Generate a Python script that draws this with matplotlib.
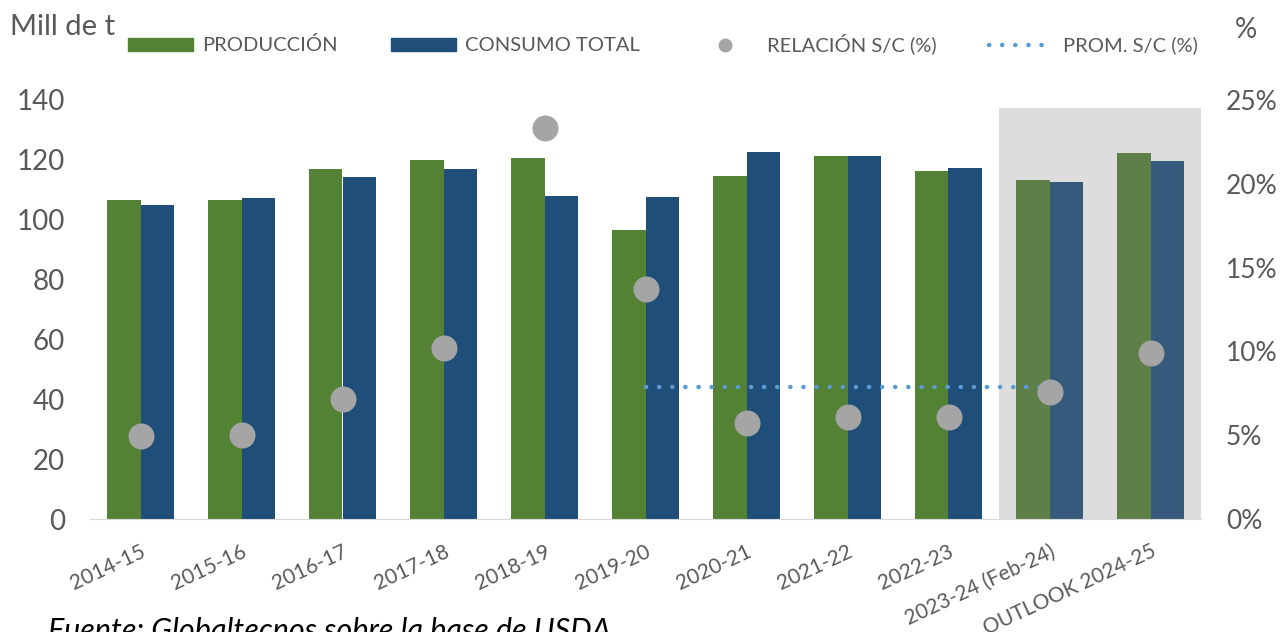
import numpy as np
import matplotlib.pyplot as plt
from matplotlib.lines import Line2D
from matplotlib.patches import Patch

plt.rcParams['font.family'] = ['Lato', 'DejaVu Sans']

campanias = ['2014-15', '2015-16', '2016-17', '2017-18', '2018-19', '2019-20',
             '2020-21', '2021-22', '2022-23', '2023-24 (Feb-24)', 'OUTLOOK 2024-25']
produccion = [106.7, 106.7, 117.0, 120.0, 120.7, 96.7, 114.7, 121.3, 116.3, 113.3, 122.2]
consumo = [105.0, 107.3, 114.3, 117.0, 108.0, 107.7, 122.7, 121.3, 117.3, 112.7, 119.7]
relacion_sc = [4.95, 5.0, 7.15, 10.2, 23.3, 13.7, 5.7, 6.1, 6.1, 7.6, 9.9]
prom_sc = [7.9, 7.9, 7.9, 7.9, 7.9]
prom_idx = [5, 6, 7, 8, 9]

verde, azul = '#548235', '#1F4E79'
verde_b, azul_b = '#5E8048', '#365A7C'
gris_txt = '#595959'
punteado = (0, (0.05, 2.9))

fig = plt.figure(figsize=(12.81, 6.32), dpi=100)
ax = fig.add_axes([90 / 1281, 113 / 632, 1111 / 1281, 419 / 632])
ax2 = ax.twinx()

x = np.arange(len(campanias))
w = 0.33
ax.axvspan(8.5, 10.5, ymin=0, ymax=137.3 / 140, color='#DDDDDD', zorder=0, lw=0)
cv = [verde] * 9 + [verde_b] * 2
ca = [azul] * 9 + [azul_b] * 2
ax.bar(x - w / 2, produccion, w, color=cv, zorder=2)
ax.bar(x + w / 2, consumo, w, color=ca, zorder=2)

ax.set_xlim(-0.5, 10.5)
ax.set_ylim(0, 140)
ax.set_yticks(range(0, 141, 20))
ax.set_xticks(x)
ax.set_xticklabels(campanias, rotation=25, ha='right', rotation_mode='anchor')
ax.tick_params(axis='x', length=0, labelsize=15, labelcolor=gris_txt, pad=16)
ax.tick_params(axis='y', length=0, labelsize=20, labelcolor=gris_txt, pad=18)
for s in ['top', 'right', 'left']:
    ax.spines[s].set_visible(False)
ax.spines['bottom'].set_color('#D9D9D9')
ax.set_zorder(1)
ax.patch.set_visible(False)

ax2.set_ylim(0, 25)
ax2.set_yticks(range(0, 26, 5))
ax2.set_yticklabels([f'{v}%' for v in range(0, 26, 5)])
ax2.tick_params(axis='y', length=0, labelsize=19, labelcolor=gris_txt, pad=18)
for s in ax2.spines.values():
    s.set_visible(False)
ax2.set_zorder(2)
ax2.plot(prom_idx, prom_sc, linestyle=punteado, color='#5B9BD5', lw=3.2,
         dash_capstyle='round')
ax2.scatter(x, relacion_sc, s=350, color='#A5A5A5', zorder=3, lw=0)

fig.text(10 / 1281, 1 - 27 / 632, 'Mill de t', fontsize=21, color=gris_txt, va='center')
fig.text(1246 / 1281, 1 - 30 / 632, '%', fontsize=20, color=gris_txt, va='center', ha='center')

handles = [Patch(color=verde), Patch(color=azul),
           Line2D([], [], marker='o', ls='none', color='#A5A5A5', markersize=9),
           Line2D([], [], ls=punteado, color='#5B9BD5', lw=3.2, dash_capstyle='round')]
labels = ['PRODUCCIÓN', 'CONSUMO TOTAL', 'RELACIÓN S/C (%)', 'PROM. S/C (%)']
fig.legend(handles, labels, loc='center left', bbox_to_anchor=(128 / 1281, 1 - 44 / 632),
           ncol=4, frameon=False, fontsize=14.5, labelcolor=gris_txt,
           borderpad=0, borderaxespad=0,
           handlelength=3.25, handleheight=0.65, handletextpad=0.45, columnspacing=2.6)

fig.text(48 / 1281, 1 - 640 / 632, 'Fuente: Globaltecnos sobre la base de USDA',
         fontsize=22, style='italic', color='black', va='baseline')

fig.savefig('out.png', dpi=100)
